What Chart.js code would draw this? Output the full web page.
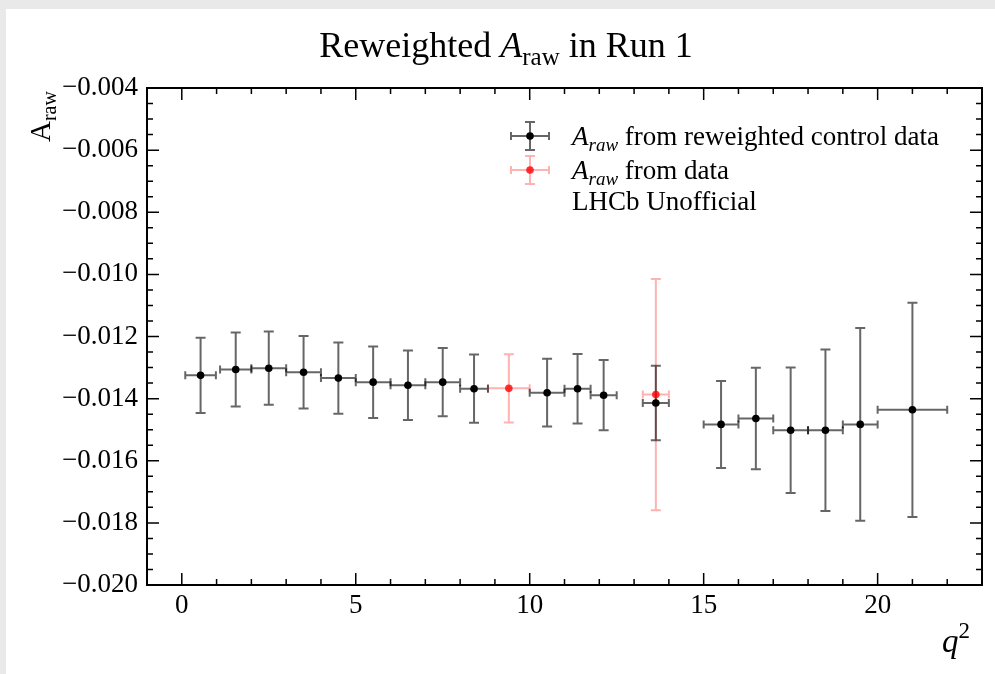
<!DOCTYPE html>
<html>
<head>
<meta charset="utf-8">
<script src="https://cdn.jsdelivr.net/npm/chart.js@4/dist/chart.umd.min.js"></script>
<style>
  html, body { margin: 0; padding: 0; background: #e9e9e9; }
  #wrap { position: absolute; left: 6px; top: 9px; width: 989px; height: 665px; background: #fff; }
</style>
</head>
<body>
<div id="wrap"><canvas id="chart"></canvas></div>
<script>
// q2 bins and raw asymmetry, reweighted control sample
const ctrlLow  = [0.1, 1.1, 2, 3, 4, 5, 6, 7, 8.0, 10, 11, 11.75, 13.25, 15, 16, 17, 18, 19, 20];
const ctrlHigh = [0.98, 2, 3, 4, 5, 6, 7, 8, 8.8, 11, 11.75, 12.5, 14.0, 16, 17, 18, 19, 20, 22];
const ctrlVal  = [-0.01325, -0.01306, -0.01302, -0.01315, -0.01334, -0.01347, -0.01357, -0.01347,
                  -0.01368, -0.01381, -0.01368, -0.01389, -0.01414, -0.01483, -0.01464, -0.01502,
                  -0.01502, -0.01483, -0.01436];
const ctrlErr  = [0.00121, 0.00119, 0.00118, 0.00117, 0.00115, 0.00115, 0.00112, 0.00110,
                  0.00110, 0.00109, 0.00112, 0.00113, 0.00120, 0.00140, 0.00163, 0.00202,
                  0.00260, 0.00310, 0.00345];

// raw asymmetry measured directly in data
const dataLow  = [8.8, 13.25];
const dataHigh = [10.0, 14.0];
const dataVal  = [-0.01367, -0.01387];
const dataErr  = [0.00110, 0.00372];

const xTickLabels = [0, 5, 10, 15, 20];
const yTickLabels = [-0.020, -0.018, -0.016, -0.014, -0.012, -0.010, -0.008, -0.006, -0.004];

const SERIF = "'Liberation Serif', 'DejaVu Serif', serif";

function toPoints(lo, hi, val) {
  return val.map((v, i) => ({ x: (lo[i] + hi[i]) / 2, y: v }));
}

function fmtY(v) {
  return '\u2212' + Math.abs(v).toFixed(3);
}

// error bars in both directions, drawn before the markers
const errorBars = {
  id: 'errorBars',
  beforeDatasetsDraw(chart) {
    const { ctx, scales: { x, y } } = chart;
    chart.data.datasets.forEach(ds => {
      const e = ds.errorBars;
      ctx.save();
      ctx.strokeStyle = e.color;
      ctx.lineWidth = 2;
      ds.data.forEach((p, i) => {
        const px = x.getPixelForValue(p.x);
        const py = y.getPixelForValue(p.y);
        const x0 = x.getPixelForValue(e.low[i]);
        const x1 = x.getPixelForValue(e.high[i]);
        const yTop = y.getPixelForValue(p.y + e.err[i]);
        const yBot = y.getPixelForValue(p.y - e.err[i]);
        ctx.beginPath();
        ctx.moveTo(px, yTop); ctx.lineTo(px, yBot);
        ctx.moveTo(px - 5, yTop); ctx.lineTo(px + 5, yTop);
        ctx.moveTo(px - 5, yBot); ctx.lineTo(px + 5, yBot);
        ctx.moveTo(x0, py); ctx.lineTo(x1, py);
        ctx.moveTo(x0, py - 4); ctx.lineTo(x0, py + 4);
        ctx.moveTo(x1, py - 4); ctx.lineTo(x1, py + 4);
        ctx.stroke();
      });
      ctx.restore();
    });
  }
};

// frame with inward major/minor ticks on all four sides
const frameTicks = {
  id: 'frameTicks',
  afterDraw(chart) {
    const { ctx, chartArea: a, scales: { x, y } } = chart;
    ctx.save();
    ctx.strokeStyle = '#000';
    ctx.lineWidth = 1.5;
    ctx.beginPath();
    x.ticks.forEach(t => {
      const px = x.getPixelForValue(t.value);
      const len = Math.round(t.value) % 5 === 0 ? 12 : 6;
      ctx.moveTo(px, a.bottom); ctx.lineTo(px, a.bottom - len);
      ctx.moveTo(px, a.top); ctx.lineTo(px, a.top + len);
    });
    y.ticks.forEach(t => {
      const py = y.getPixelForValue(t.value);
      const len = Math.round(t.value * 10000) % 20 === 0 ? 12 : 6;
      ctx.moveTo(a.left, py); ctx.lineTo(a.left + len, py);
      ctx.moveTo(a.right, py); ctx.lineTo(a.right - len, py);
    });
    ctx.stroke();
    ctx.lineWidth = 2;
    ctx.strokeRect(a.left, a.top, a.right - a.left, a.bottom - a.top);
    ctx.restore();
  }
};

// draw a run of text pieces with their own font and vertical shift
function richText(ctx, parts, x, y) {
  let cx = x;
  parts.forEach(p => {
    ctx.font = p.font;
    ctx.fillText(p.text, cx, y + (p.dy || 0));
    cx += ctx.measureText(p.text).width;
  });
  return cx - x;
}

function richWidth(ctx, parts) {
  let w = 0;
  parts.forEach(p => { ctx.font = p.font; w += ctx.measureText(p.text).width; });
  return w;
}

function legendMarker(ctx, cx, cy, color, dot) {
  ctx.save();
  ctx.strokeStyle = color;
  ctx.lineWidth = 2;
  ctx.beginPath();
  ctx.moveTo(cx, cy - 14); ctx.lineTo(cx, cy + 14);
  ctx.moveTo(cx - 5, cy - 14); ctx.lineTo(cx + 5, cy - 14);
  ctx.moveTo(cx - 5, cy + 14); ctx.lineTo(cx + 5, cy + 14);
  ctx.moveTo(cx - 19, cy); ctx.lineTo(cx + 19, cy);
  ctx.moveTo(cx - 19, cy - 4); ctx.lineTo(cx - 19, cy + 4);
  ctx.moveTo(cx + 19, cy - 4); ctx.lineTo(cx + 19, cy + 4);
  ctx.stroke();
  ctx.fillStyle = dot;
  ctx.beginPath();
  ctx.arc(cx, cy, 3.8, 0, Math.PI * 2);
  ctx.fill();
  ctx.restore();
}

// title, axis titles and legend
const annotations = {
  id: 'annotations',
  afterDraw(chart) {
    const ctx = chart.ctx;
    ctx.save();
    ctx.fillStyle = '#000';
    ctx.textBaseline = 'alphabetic';
    ctx.textAlign = 'left';

    const title = [
      { text: 'Reweighted ', font: `36px ${SERIF}` },
      { text: 'A', font: `italic 36px ${SERIF}` },
      { text: 'raw', font: `25px ${SERIF}`, dy: 8 },
      { text: ' in Run 1', font: `36px ${SERIF}` }
    ];
    const tw = richWidth(ctx, title);
    richText(ctx, title, 500 - tw / 2, 48);

    ctx.save();
    ctx.translate(44, 133);
    ctx.rotate(-Math.PI / 2);
    richText(ctx, [
      { text: 'A', font: `29px ${SERIF}` },
      { text: 'raw', font: `20px ${SERIF}`, dy: 6 }
    ], 0, 0);
    ctx.restore();

    richText(ctx, [
      { text: 'q', font: `italic 33px ${SERIF}` },
      { text: '2', font: `23px ${SERIF}`, dy: -14 }
    ], 936, 643);

    legendMarker(ctx, 524, 127, 'rgba(0,0,0,0.6)', '#000');
    legendMarker(ctx, 524, 161, 'rgba(255,0,0,0.3)', 'rgba(255,0,0,0.8)');
    richText(ctx, [
      { text: 'A', font: `italic 27px ${SERIF}` },
      { text: 'raw', font: `italic 19px ${SERIF}`, dy: 6 },
      { text: ' from reweighted control data', font: `27px ${SERIF}` }
    ], 566, 136);
    richText(ctx, [
      { text: 'A', font: `italic 27px ${SERIF}` },
      { text: 'raw', font: `italic 19px ${SERIF}`, dy: 6 },
      { text: ' from data', font: `27px ${SERIF}` }
    ], 566, 170);
    richText(ctx, [{ text: 'LHCb Unofficial', font: `27px ${SERIF}` }], 566, 201);
    ctx.restore();
  }
};

new Chart(document.getElementById('chart'), {
  type: 'scatter',
  data: {
    datasets: [
      {
        label: 'A_raw from data',
        data: toPoints(dataLow, dataHigh, dataVal),
        errorBars: { low: dataLow, high: dataHigh, err: dataErr, color: 'rgba(255,0,0,0.3)' },
        pointRadius: 3.8,
        pointBackgroundColor: 'rgba(255,0,0,0.8)',
        pointBorderWidth: 0,
        order: 1
      },
      {
        label: 'A_raw from reweighted control data',
        data: toPoints(ctrlLow, ctrlHigh, ctrlVal),
        errorBars: { low: ctrlLow, high: ctrlHigh, err: ctrlErr, color: 'rgba(0,0,0,0.6)' },
        pointRadius: 3.8,
        pointBackgroundColor: '#000',
        pointBorderWidth: 0,
        order: 0
      }
    ]
  },
  options: {
    responsive: true,
    maintainAspectRatio: false,
    animation: false,
    layout: { padding: { top: 79, right: 13, left: 0, bottom: 0 } },
    plugins: { legend: { display: false }, title: { display: false }, tooltip: { enabled: false } },
    scales: {
      x: {
        type: 'linear',
        min: -1,
        max: 23,
        grid: { display: false, drawTicks: false },
        border: { display: false },
        afterFit: s => { s.height = 89; },
        ticks: {
          stepSize: 1,
          autoSkip: false,
          maxRotation: 0,
          padding: 5,
          color: '#000',
          font: { family: SERIF, size: 27 },
          callback: v => xTickLabels.includes(v) ? String(v) : ''
        }
      },
      y: {
        min: -0.020,
        max: -0.004,
        grid: { display: false, drawTicks: false },
        border: { display: false },
        afterFit: s => { s.width = 141; },
        ticks: {
          stepSize: 0.0005,
          autoSkip: false,
          padding: 9,
          color: '#000',
          font: { family: SERIF, size: 27 },
          callback: v => {
            const k = Math.round(v * 10000);
            return yTickLabels.some(t => Math.round(t * 10000) === k) ? fmtY(v) : '';
          }
        }
      }
    }
  },
  plugins: [errorBars, frameTicks, annotations]
});
</script>
</body>
</html>
